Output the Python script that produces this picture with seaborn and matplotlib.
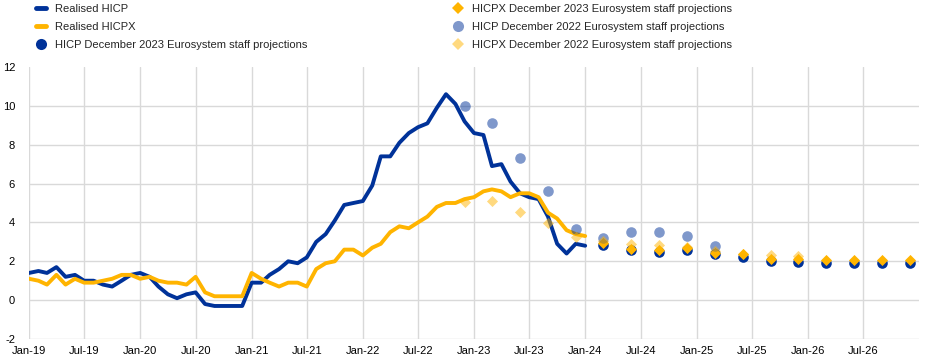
import numpy as np
import pandas as pd
import matplotlib
matplotlib.use("Agg")
import matplotlib.pyplot as plt
import matplotlib.dates as mdates
from matplotlib.lines import Line2D
import seaborn as sns

# ---------------- data ----------------
months = pd.date_range("2019-01-01", "2024-01-01", freq="MS")
hicp = [1.4, 1.5, 1.4, 1.7, 1.2, 1.3, 1.0, 1.0, 0.8, 0.7, 1.0, 1.3,
        1.4, 1.2, 0.7, 0.3, 0.1, 0.3, 0.4, -0.2, -0.3, -0.3, -0.3, -0.3,
        0.9, 0.9, 1.3, 1.6, 2.0, 1.9, 2.2, 3.0, 3.4, 4.1, 4.9, 5.0,
        5.1, 5.9, 7.4, 7.4, 8.1, 8.6, 8.9, 9.1, 9.9, 10.6, 10.1, 9.2,
        8.6, 8.5, 6.9, 7.0, 6.1, 5.5, 5.3, 5.2, 4.3, 2.9, 2.4, 2.9,
        2.8]
hicpx = [1.1, 1.0, 0.8, 1.3, 0.8, 1.1, 0.9, 0.9, 1.0, 1.1, 1.3, 1.3,
         1.1, 1.2, 1.0, 0.9, 0.9, 0.8, 1.2, 0.4, 0.2, 0.2, 0.2, 0.2,
         1.4, 1.1, 0.9, 0.7, 0.9, 0.9, 0.7, 1.6, 1.9, 2.0, 2.6, 2.6,
         2.3, 2.7, 2.9, 3.5, 3.8, 3.7, 4.0, 4.3, 4.8, 5.0, 5.0, 5.2,
         5.3, 5.6, 5.7, 5.6, 5.3, 5.5, 5.5, 5.3, 4.5, 4.2, 3.6, 3.4,
         3.3]

proj23_dates = pd.date_range("2024-03-01", "2026-12-01", freq="3MS")
hicp_dec23 = [2.85, 2.6, 2.5, 2.6, 2.35, 2.2, 2.0, 1.95, 1.9, 1.9, 1.9, 1.9]
hicpx_dec23 = [2.95, 2.65, 2.6, 2.7, 2.45, 2.35, 2.1, 2.1, 2.05, 2.05, 2.05, 2.05]

proj22_hicp_dates = pd.date_range("2022-12-01", "2025-03-01", freq="3MS")
hicp_dec22 = [10.0, 9.1, 7.3, 5.6, 3.65, 3.2, 3.5, 3.5, 3.3, 2.8]
proj22_hicpx_dates = pd.date_range("2022-12-01", "2025-12-01", freq="3MS")
hicpx_dec22 = [5.05, 5.1, 4.55, 3.95, 3.25, 3.05, 2.9, 2.85, 2.75, 2.55, 2.4, 2.3, 2.25]

labels = ["Realised HICP", "Realised HICPX",
          "HICP December 2023 Eurosystem staff projections",
          "HICPX December 2023 Eurosystem staff projections",
          "HICP December 2022 Eurosystem staff projections",
          "HICPX December 2022 Eurosystem staff projections"]

# ---------------- style ----------------
sns.set_style("white")
plt.rcParams["font.family"] = ["Liberation Sans", "DejaVu Sans"]
plt.rcParams["axes.unicode_minus"] = False
BLUE = "#003299"
YELLOW = "#FFB400"
GRID = "#d9d9d9"

fig = plt.figure(figsize=(9.45, 3.63), dpi=100)
ax = fig.add_axes([29 / 945, 24 / 363, 890 / 945, 272 / 363])

sns.lineplot(x=months, y=hicp, color=BLUE, lw=2.8, ax=ax, zorder=3)
sns.lineplot(x=months, y=hicpx, color=YELLOW, lw=2.8, ax=ax, zorder=3)
sns.scatterplot(x=proj23_dates, y=hicp_dec23, marker="o", s=58, color=BLUE,
                linewidth=0, ax=ax, zorder=4)
sns.scatterplot(x=proj23_dates, y=hicpx_dec23, marker="D", s=32, color=YELLOW,
                linewidth=0, ax=ax, zorder=5)
sns.scatterplot(x=proj22_hicp_dates, y=hicp_dec22, marker="o", s=58, color=BLUE,
                alpha=0.5, linewidth=0, ax=ax, zorder=6)
sns.scatterplot(x=proj22_hicpx_dates, y=hicpx_dec22, marker="D", s=32, color=YELLOW,
                alpha=0.5, linewidth=0, ax=ax, zorder=7)

ax.set_ylim(-2, 12)
ax.set_yticks(np.arange(-2, 13, 2))
ax.xaxis.set_major_locator(mdates.MonthLocator(bymonth=[1, 7]))
ax.xaxis.set_major_formatter(mdates.DateFormatter("%b-%y"))
ax.set_xlim(pd.Timestamp("2019-01-01"), pd.Timestamp("2027-01-01"))
xt = [t for t in ax.get_xticks() if t < mdates.date2num(pd.Timestamp("2026-12-01"))]
ax.set_xticks(xt)
ax.set_xlim(pd.Timestamp("2019-01-01"), pd.Timestamp("2027-01-01"))

ax.grid(True, color=GRID, lw=1)
ax.set_axisbelow(True)
for s in ax.spines.values():
    s.set_visible(False)
ax.tick_params(axis="both", length=0, labelsize=8, colors="#000000")
ax.tick_params(axis="y", pad=10)
ax.tick_params(axis="x", pad=5)
ax.set_xlabel("")
ax.set_ylabel("")
fig.canvas.draw()
ax.get_ygridlines()[-1].set_visible(False)

# ---------------- legends ----------------
h_left = [Line2D([0], [0], color=BLUE, lw=3.5),
          Line2D([0], [0], color=YELLOW, lw=3.5),
          Line2D([0], [0], marker="o", color=BLUE, lw=0, markersize=8,
                 markeredgewidth=0)]
h_right = [Line2D([0], [0], marker="D", color=YELLOW, lw=0, markersize=6.5,
                  markeredgewidth=0),
           Line2D([0], [0], marker="o", color=BLUE, alpha=0.5, lw=0, markersize=8,
                  markeredgewidth=0),
           Line2D([0], [0], marker="D", color=YELLOW, alpha=0.5, lw=0, markersize=6.5,
                  markeredgewidth=0)]
common = dict(loc="upper left", frameon=False, fontsize=8, borderpad=0,
              borderaxespad=0, handlelength=0.9, handletextpad=0.8,
              labelspacing=0.72)
leg1 = fig.legend(h_left, labels[:3], bbox_to_anchor=(36 / 945, 1 - 4 / 363), **common)
leg2 = fig.legend(h_right, labels[3:], bbox_to_anchor=(453 / 945, 1 - 4 / 363), **common)

fig.savefig("out.png", dpi=100)
